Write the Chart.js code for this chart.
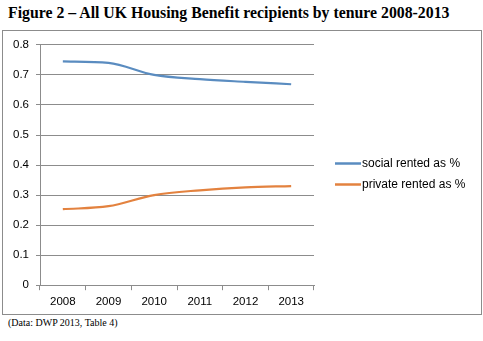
<!DOCTYPE html>
<html>
<head>
<meta charset="utf-8">
<script src="https://cdn.jsdelivr.net/npm/chart.js@4.4.0/dist/chart.umd.min.js"></script>
<style>
    body { margin: 0; background: #fff; width: 483px; height: 341px; position: relative; overflow: hidden; }
    #title { position: absolute; left: 8px; top: 4px; font-family: "Liberation Serif", serif; font-weight: bold; font-size: 15.8px; color: #000; white-space: nowrap; }
    #box { position: absolute; left: 2px; top: 30px; width: 478px; height: 283px; border: 1px solid #8c8c8c; }
    #note { position: absolute; left: 8px; top: 317px; font-family: "Liberation Serif", serif; font-size: 10px; color: #000; }
</style>
</head>
<body>
<div id="title">Figure 2 – All UK Housing Benefit recipients by tenure 2008-2013</div>
<div id="box"><canvas id="tenure_graph" width="478" height="283"></canvas></div>
<div id="note">(Data: DWP 2013, Table 4)</div>

<script>
// 年ごとの割合
let years          = ["2008", "2009", "2010", "2011", "2012", "2013"];
let social_share   = [0.745, 0.740, 0.700, 0.686, 0.677, 0.669];
let private_share  = [0.253, 0.263, 0.300, 0.316, 0.326, 0.330];
let y_ticks        = [0, 0.1, 0.2, 0.3, 0.4, 0.5, 0.6, 0.7, 0.8];

window.addEventListener("load", function (){
    draw_tenure_graph();
});

// 凡例は右側に線＋ラベルで描く（標準の凡例だと幅が足りず切れる）
const side_legend = {
    id: "side_legend",
    afterDraw(chart){
        const c   = chart.ctx;
        const x0  = chart.chartArea.right + 21;
        const y0  = chart.height / 2 - 9;
        c.save();
        c.font = "12px 'Liberation Sans', Arial, sans-serif";
        c.textBaseline = "middle";
        chart.data.datasets.forEach(function (ds, i){
            const y = y0 + i * 21;
            c.strokeStyle = ds.borderColor;
            c.lineWidth   = 2.5;
            c.beginPath();
            c.moveTo(x0, y);
            c.lineTo(x0 + 26, y);
            c.stroke();
            c.fillStyle = "#000";
            c.fillText(ds.label, x0 + 27, y);
        });
        c.restore();
    }
};

function draw_tenure_graph(){

    const ctx      = document.getElementById("tenure_graph").getContext("2d");
    const tickFont = { family: "'Liberation Sans', Arial, sans-serif", size: 11.5 };

    const myChart  = new Chart(ctx, {
        type: "line",
        data: {
            labels: years,
            datasets: [
                {
                    label: "social rented as %",
                    data: social_share,
                    borderColor: "#5A8CC0",
                    backgroundColor: "#5A8CC0",
                    borderWidth: 2.2,
                    pointRadius: 0,
                    cubicInterpolationMode: "monotone",
                },
                {
                    label: "private rented as %",
                    data: private_share,
                    borderColor: "#E3823F",
                    backgroundColor: "#E3823F",
                    borderWidth: 2.2,
                    pointRadius: 0,
                    cubicInterpolationMode: "monotone",
                }
            ]
        },
        plugins: [side_legend],
        options: {
            responsive: false,
            animation: false,
            layout: { padding: { top: 6, right: 167, bottom: 0, left: 0 } },
            plugins: {
                tooltip: { enabled: false },
                legend: { display: false }
            },
            scales: {
                x: {
                    offset: true,
                    grid: {
                        offset: true,
                        drawOnChartArea: false,
                        color: "#8c8c8c",
                        tickLength: 5,
                    },
                    border: { color: "#8c8c8c" },
                    ticks: { color: "#000", font: tickFont, padding: 5, maxRotation: 0 },
                },
                y: {
                    min: 0,
                    max: 0.8,
                    afterBuildTicks: function (axis){
                        axis.ticks = y_ticks.map(v => ({ value: v }));
                    },
                    afterFit: function (axis){
                        axis.width = 37;
                    },
                    grid: {
                        color: "#8c8c8c",
                        tickLength: 4,
                    },
                    border: { color: "#8c8c8c" },
                    ticks: {
                        color: "#000",
                        font: tickFont,
                        padding: 7,
                        callback: v => String(Math.round(v * 10) / 10),
                    },
                }
            }
        }
    });
}
</script>
</body>
</html>
